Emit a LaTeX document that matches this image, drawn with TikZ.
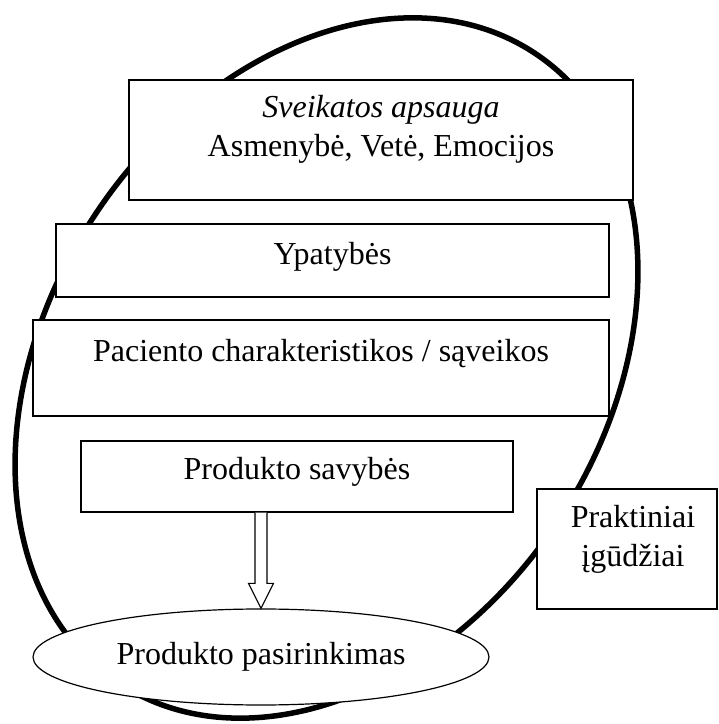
\documentclass[tikz,border=0pt]{standalone}
\usepackage{fontspec}
\setmainfont{Liberation Serif}
\usetikzlibrary{calc,shapes.geometric}

\begin{document}
\begin{tikzpicture}[
    x=1pt, y=1pt,
    txt/.style={font=\fontsize{32}{38.5}\selectfont, inner sep=0pt, align=center},
    block/.style={draw, line width=1.2pt, fill=white, inner sep=0pt},
    ring/.style={line width=5.5pt},
    hollow/.style={draw, fill=white, line width=1.2pt, line join=miter},
]
    \useasboundingbox (0,0) rectangle (719,724);

    % the big tilted ring behind everything
    \draw[ring, rotate around={-33.5:(326.5,356)}] (326.5,356) ellipse [x radius=277.6, y radius=377.5];

    \node[block, minimum width=504, minimum height=120,
          label={[txt, anchor=north, yshift=-16]north:{\textit{Sveikatos apsauga}\\Asmenybė, Vetė, Emocijos}}] (health) at (381,584) {};
    \node[block, minimum width=553, minimum height=73,
          label={[txt, anchor=north, yshift=-19]north:{Ypatybės}}] (traits) at (332.5,463.5) {};
    \node[block, minimum width=576, minimum height=96,
          label={[txt, anchor=north, yshift=-20]north:{Paciento charakteristikos / sąveikos}}] (patient) at (321,356) {};
    \node[block, minimum width=432, minimum height=71,
          label={[txt, anchor=north, yshift=-16.5]north:{Produkto savybės}}] (features) at (297,247.5) {};
    \node[block, minimum width=180, minimum height=120,
          label={[txt, anchor=north, yshift=-17, xshift=6]north:{Praktiniai\\įgūdžiai}}] (skills) at (627,175) {};

    \node[block, ellipse, minimum width=456, minimum height=96, font=\fontsize{32}{38.5}\selectfont] (choice) at (261,67) {Produkto pasirinkimas};

    % hollow arrow from the product box down to the choice
    \coordinate (tip) at (choice.north);
    \coordinate (root) at (choice.north |- features.south);
    \draw[hollow] ($(root)+(-6,0)$) -- ($(tip)+(-6,25)$) -- ($(tip)+(-12.5,25)$) -- (tip)
        -- ($(tip)+(12.5,25)$) -- ($(tip)+(6,25)$) -- ($(root)+(6,0)$);
\end{tikzpicture}
\end{document}
